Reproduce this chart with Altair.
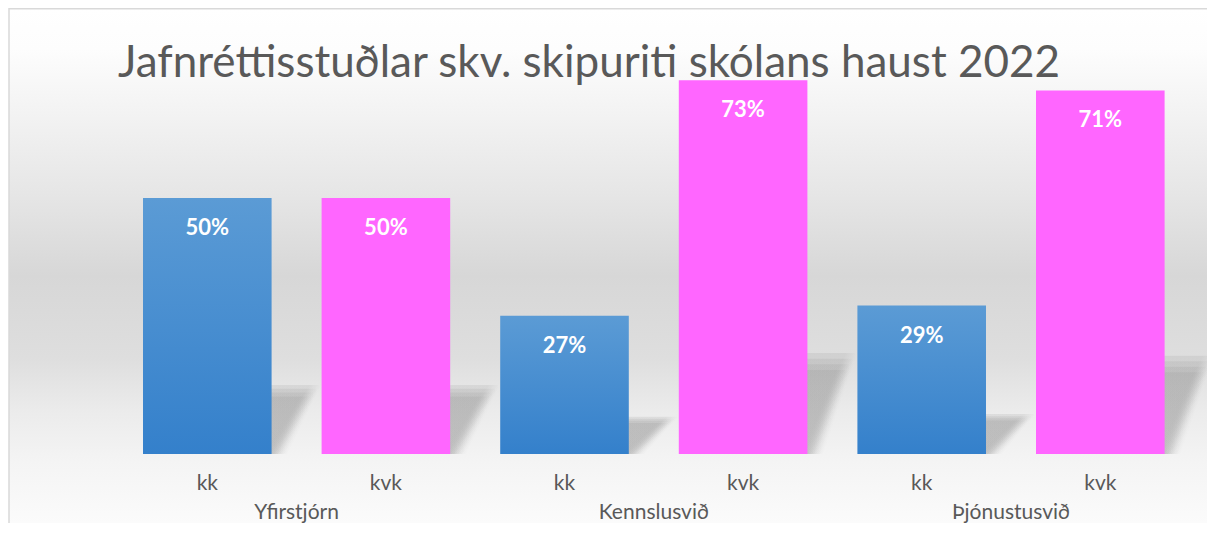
import altair as alt
import pandas as pd

groups = ["Yfirstjórn", "Yfirstjórn", "Kennslusvið", "Kennslusvið", "Þjónustusvið", "Þjónustusvið"]
sexes = ["kk", "kvk", "kk", "kvk", "kk", "kvk"]
values = [0.50, 0.50, 0.27, 0.73, 0.29, 0.71]
title_text = "Jafnréttisstuðlar skv. skipuriti skólans haust 2022"

df = pd.DataFrame({"group": groups, "sex": sexes, "value": values})
df["key"] = df["group"] + "|" + df["sex"]
key_order = list(df["key"])

FONT = "Lato"
W = 1071.6
H = 409.6
PAD_L, PAD_T, PAD_R, PAD_B = 110, 36.4, 17.4, 69
STEP = W / 6

x_enc = alt.X("key:N", sort=key_order,
              scale=alt.Scale(paddingInner=0.28, paddingOuter=0.14, round=False),
              axis=None)
yscale = alt.Scale(domain=[0, 0.8], nice=False)
y_enc = alt.Y("value:Q", scale=yscale, axis=None)

one = alt.Data(values=[{}])

bg = alt.Chart(one).mark_rect(
    color=alt.LinearGradient(
        gradient="linear", x1=0, x2=0, y1=0, y2=1,
        stops=[
            alt.GradientStop(color="#ffffff", offset=0.0),
            alt.GradientStop(color="#fdfdfd", offset=0.08),
            alt.GradientStop(color="#e6e6e6", offset=0.36),
            alt.GradientStop(color="#d7d7d7", offset=0.52),
            alt.GradientStop(color="#dedede", offset=0.68),
            alt.GradientStop(color="#ebebeb", offset=0.78),
            alt.GradientStop(color="#f4f4f4", offset=0.88),
            alt.GradientStop(color="#fbfbfb", offset=1.0),
        ])
).encode(x=alt.value(-PAD_L + 1), x2=alt.value(W + PAD_R),
         y=alt.value(-PAD_T), y2=alt.value(H + PAD_B))

border_left = alt.Chart(one).mark_rule(color="#d9d9d9", strokeWidth=1.5).encode(
    x=alt.value(-PAD_L + 1), y=alt.value(-PAD_T), y2=alt.value(H + PAD_B))
border_top = alt.Chart(one).mark_rule(color="#d9d9d9", strokeWidth=1.5).encode(
    x=alt.value(-PAD_L + 1), x2=alt.value(W + PAD_R), y=alt.value(-PAD_T + 0.75))

title = alt.Chart(one).mark_text(
    text=title_text, align="left", baseline="alphabetic", fontSize=44,
    font=FONT, color="#595959"
).encode(x=alt.value(0), y=alt.value(69 - PAD_T))

base = alt.Chart(df)


def shadow_layer(factor, offset, alpha):
    return base.transform_calculate(sh=f"datum.value * {factor}").mark_bar(
        xOffset=offset,
        color=alt.LinearGradient(
            gradient="linear", x1=0, x2=1, y1=0, y2=0.265,
            stops=[
                alt.GradientStop(color=f"rgba(140,140,140,{alpha})", offset=0.0),
                alt.GradientStop(color=f"rgba(140,140,140,{alpha})", offset=0.86),
                alt.GradientStop(color="rgba(140,140,140,0)", offset=0.95),
                alt.GradientStop(color="rgba(140,140,140,0)", offset=1.0),
            ])
    ).encode(x=x_enc, y=alt.Y("sh:Q", scale=yscale, axis=None))


shadows = [
    shadow_layer(0.27, 48, 0.16),
    shadow_layer(0.255, 45, 0.16),
    shadow_layer(0.24, 42, 0.16),
    shadow_layer(0.225, 39, 0.16),
]

bars_kk = base.transform_filter(alt.datum.sex == "kk").mark_bar(
    color=alt.LinearGradient(
        gradient="linear", x1=0, x2=0, y1=0, y2=1,
        stops=[alt.GradientStop(color="#5b9bd5", offset=0.0),
               alt.GradientStop(color="#3480cb", offset=1.0)])
).encode(x=x_enc, y=y_enc)

bars_kvk = base.transform_filter(alt.datum.sex == "kvk").mark_bar(
    color="#ff66ff"
).encode(x=x_enc, y=y_enc)

labels = base.mark_text(baseline="middle", dy=30, color="white", fontWeight="bold",
                        fontSize=22, font=FONT).encode(
    x=x_enc, y=y_enc, text=alt.Text("value:Q", format=".0%"))

sex_labels = base.mark_text(baseline="middle", color="#595959", fontSize=21, font=FONT).encode(
    x=x_enc, y=alt.value(H + 30), text="sex:N")

group_labels = base.transform_filter(alt.datum.sex == "kk").mark_text(
    baseline="middle", color="#595959", fontSize=21, font=FONT, dx=STEP / 2
).encode(x=x_enc, y=alt.value(H + 59), text="group:N")

chart = alt.layer(bg, border_left, border_top, title, *shadows, bars_kk, bars_kvk,
                  labels, sex_labels, group_labels).properties(
    width=W, height=H,
    autosize=alt.AutoSizeParams(type="none"),
    padding={"left": PAD_L, "top": PAD_T, "right": PAD_R, "bottom": PAD_B},
).configure_view(stroke=None).configure(background="white")

chart.save("out.html", embed_options={"renderer": "svg", "actions": False})
